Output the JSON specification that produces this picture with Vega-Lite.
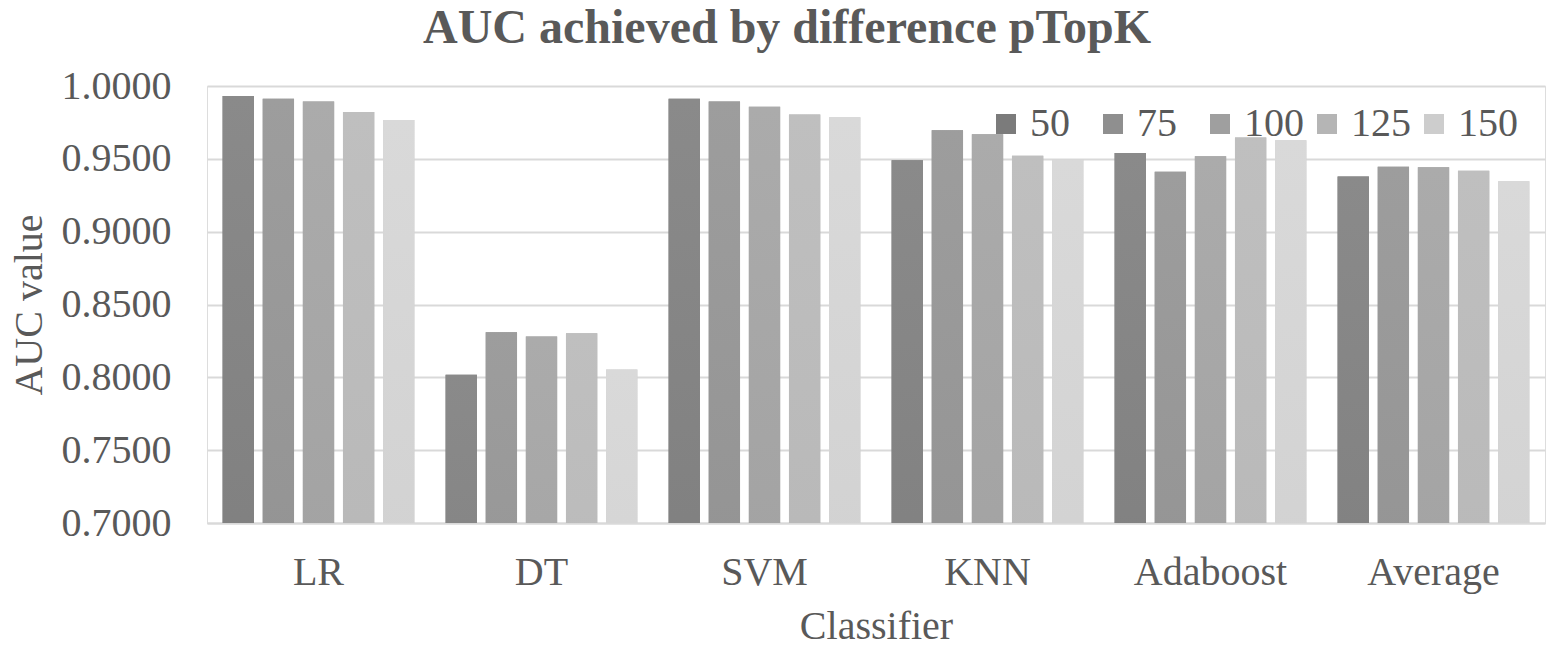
{
  "$schema": "https://vega.github.io/schema/vega-lite/v6.json",
  "autosize": {"type": "none"},
  "padding": {"left": 207, "top": 86, "right": 14, "bottom": 132},
  "width": 1338,
  "height": 437,
  "background": "white",
  "title": {
    "text": "AUC achieved by difference pTopK",
    "font": "Liberation Serif",
    "fontSize": 48,
    "fontWeight": "bold",
    "color": "#595959",
    "anchor": "middle",
    "offset": 13,
    "dx": -89
  },
  "data": {
    "values": [
      {"classifier": "LR", "k": "50", "auc": 0.9931},
      {"classifier": "LR", "k": "75", "auc": 0.9912},
      {"classifier": "LR", "k": "100", "auc": 0.9894},
      {"classifier": "LR", "k": "125", "auc": 0.9821},
      {"classifier": "LR", "k": "150", "auc": 0.9766},
      {"classifier": "DT", "k": "50", "auc": 0.8017},
      {"classifier": "DT", "k": "75", "auc": 0.8310},
      {"classifier": "DT", "k": "100", "auc": 0.8280},
      {"classifier": "DT", "k": "125", "auc": 0.8302},
      {"classifier": "DT", "k": "150", "auc": 0.8054},
      {"classifier": "SVM", "k": "50", "auc": 0.9912},
      {"classifier": "SVM", "k": "75", "auc": 0.9894},
      {"classifier": "SVM", "k": "100", "auc": 0.9857},
      {"classifier": "SVM", "k": "125", "auc": 0.9805},
      {"classifier": "SVM", "k": "150", "auc": 0.9786},
      {"classifier": "KNN", "k": "50", "auc": 0.9491},
      {"classifier": "KNN", "k": "75", "auc": 0.9697},
      {"classifier": "KNN", "k": "100", "auc": 0.9669},
      {"classifier": "KNN", "k": "125", "auc": 0.9522},
      {"classifier": "KNN", "k": "150", "auc": 0.9497},
      {"classifier": "Adaboost", "k": "50", "auc": 0.9540},
      {"classifier": "Adaboost", "k": "75", "auc": 0.9412},
      {"classifier": "Adaboost", "k": "100", "auc": 0.9517},
      {"classifier": "Adaboost", "k": "125", "auc": 0.9646},
      {"classifier": "Adaboost", "k": "150", "auc": 0.9628},
      {"classifier": "Average", "k": "50", "auc": 0.9378},
      {"classifier": "Average", "k": "75", "auc": 0.9445},
      {"classifier": "Average", "k": "100", "auc": 0.9443},
      {"classifier": "Average", "k": "125", "auc": 0.9419},
      {"classifier": "Average", "k": "150", "auc": 0.9346}
    ]
  },
  "encoding": {
    "x": {
      "field": "classifier",
      "type": "nominal",
      "sort": ["LR", "DT", "SVM", "KNN", "Adaboost", "Average"],
      "scale": {"domain": ["LR", "DT", "SVM", "KNN", "Adaboost", "Average"], "paddingInner": 0.14, "paddingOuter": 0.07},
      "axis": {
        "title": "Classifier",
        "titleFont": "Liberation Serif",
        "titleFontSize": 40,
        "titleFontWeight": "normal",
        "titleColor": "#595959",
        "titlePadding": 14,
        "labelFont": "Liberation Serif",
        "labelFontSize": 40,
        "labelColor": "#595959",
        "labelAngle": 0,
        "labelPadding": 29,
        "ticks": false,
        "domain": true,
        "domainColor": "#d9d9d9",
        "domainWidth": 2
      }
    },
    "xOffset": {
      "field": "k",
      "type": "nominal",
      "scale": {"domain": ["50", "75", "100", "125", "150"], "paddingInner": 0.22, "paddingOuter": 0}
    },
    "y": {
      "field": "auc",
      "type": "quantitative",
      "scale": {"domain": [0.7, 1.0], "zero": false, "nice": false},
      "axis": {
        "title": "AUC value",
        "titleFont": "Liberation Serif",
        "titleFontSize": 40,
        "titleFontWeight": "normal",
        "titleColor": "#595959",
        "titlePadding": 12,
        "values": [0.7, 0.75, 0.8, 0.85, 0.9, 0.95, 1.0],
        "format": ".4f",
        "labelFont": "Liberation Serif",
        "labelFontSize": 40,
        "labelColor": "#595959",
        "labelPadding": 36,
        "ticks": false,
        "domain": false,
        "grid": true,
        "gridColor": "#d9d9d9",
        "gridWidth": 2
      }
    }
  },
  "layer": [
    {
      "mark": {"type": "bar", "clip": true},
      "encoding": {
        "color": {
          "field": "k",
          "type": "nominal",
          "scale": {"domain": ["50", "75", "100", "125", "150"], "range": ["#7b7b7b", "#8f8f8f", "#9f9f9f", "#b5b5b5", "#cdcdcd"]},
          "legend": {
            "title": null,
            "orient": "none",
            "legendX": 779,
            "legendY": 18,
            "columns": 5,
            "gridAlign": "all",
            "symbolType": "square",
            "symbolSize": 400,
            "symbolStrokeWidth": 0,
            "labelFont": "Liberation Serif",
            "labelFontSize": 40,
            "labelColor": "#595959",
            "labelOffset": 4,
            "columnPadding": 3
          }
        }
      }
    },
    {
      "transform": [{"filter": "datum.k === '50'"}],
      "mark": {"type": "bar", "clip": true, "color": {"gradient": "linear", "x1": 0, "y1": 0, "x2": 0, "y2": 1, "stops": [{"offset": 0, "color": "#8a8a8a"}, {"offset": 1, "color": "#6b6b6b"}]}}
    },
    {
      "transform": [{"filter": "datum.k === '75'"}],
      "mark": {"type": "bar", "clip": true, "color": {"gradient": "linear", "x1": 0, "y1": 0, "x2": 0, "y2": 1, "stops": [{"offset": 0, "color": "#9d9d9d"}, {"offset": 1, "color": "#808080"}]}}
    },
    {
      "transform": [{"filter": "datum.k === '100'"}],
      "mark": {"type": "bar", "clip": true, "color": {"gradient": "linear", "x1": 0, "y1": 0, "x2": 0, "y2": 1, "stops": [{"offset": 0, "color": "#ababab"}, {"offset": 1, "color": "#919191"}]}}
    },
    {
      "transform": [{"filter": "datum.k === '125'"}],
      "mark": {"type": "bar", "clip": true, "color": {"gradient": "linear", "x1": 0, "y1": 0, "x2": 0, "y2": 1, "stops": [{"offset": 0, "color": "#bfbfbf"}, {"offset": 1, "color": "#aaaaaa"}]}}
    },
    {
      "transform": [{"filter": "datum.k === '150'"}],
      "mark": {"type": "bar", "clip": true, "color": {"gradient": "linear", "x1": 0, "y1": 0, "x2": 0, "y2": 1, "stops": [{"offset": 0, "color": "#d9d9d9"}, {"offset": 1, "color": "#c2c2c2"}]}}
    }
  ]
}
